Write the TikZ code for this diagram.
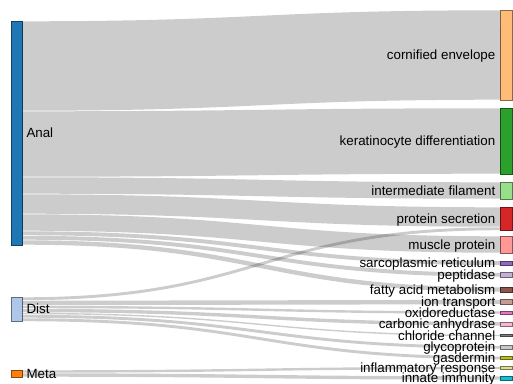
\documentclass[tikz,border=0pt]{standalone}
\usepackage{fontspec}
\setmainfont{Liberation Sans}
\usetikzlibrary{calc}

%% category20 colours of the bars
\definecolor{analColor}{HTML}{1F77B4}
\definecolor{distColor}{HTML}{AEC7E8}
\definecolor{metaColor}{HTML}{FF7F0E}
\definecolor{cornColor}{HTML}{FFBB78}
\definecolor{keraColor}{HTML}{2CA02C}
\definecolor{interColor}{HTML}{98DF8A}
\definecolor{secColor}{HTML}{D62728}
\definecolor{muscleColor}{HTML}{FF9896}
\definecolor{sarcoColor}{HTML}{9467BD}
\definecolor{peptColor}{HTML}{C5B0D5}
\definecolor{fattyColor}{HTML}{8C564B}
\definecolor{ionColor}{HTML}{C49C94}
\definecolor{oxiColor}{HTML}{E377C2}
\definecolor{carbColor}{HTML}{F7B6D2}
\definecolor{chlorColor}{HTML}{7F7F7F}
\definecolor{glycoColor}{HTML}{C7C7C7}
\definecolor{gasColor}{HTML}{BCBD22}
\definecolor{inflColor}{HTML}{DBDB8D}
\definecolor{innateColor}{HTML}{17BECF}

%% a flow: source, offset in source, target, offset in target, width
\newcommand{\flowLink}[5]{%%
  \pgfmathsetmacro{\flowWidth}{#5-0.6}
  \draw[flowStyle,line width=\flowWidth pt] let
    \p1=($(#1.north east)+(0,#2+#5/2)$),
    \p2=($(#3.north west)+(0,#4+#5/2)$)
  in (\p1) .. controls ({(\x1+\x2)/2},\y1) and ({(\x1+\x2)/2},\y2) .. (\p2);
}

\begin{document}
\begin{tikzpicture}[x=1pt,y=-1pt,%%
  barStyle/.style={fill=#1,draw=#1!55!black,line width=0.5pt,inner sep=0pt,%%
    outer sep=0pt,minimum width=11.5,anchor=north west},%%
  flowStyle/.style={draw=black,draw opacity=0.2},%%
  leftLabelStyle/.style={anchor=base west,inner sep=0pt,font=\fontsize{13.35}{15}\selectfont},%%
  rightLabelStyle/.style={anchor=base east,inner sep=0pt,font=\fontsize{13.35}{15}\selectfont}%%
]
\useasboundingbox (0,0) rectangle (513,383);
%%
\pgfmathsetmacro{\xleft}{10.8}
\pgfmathsetmacro{\xright}{500.5}
%%
%% Bars of the sources.
\node[barStyle=analColor,minimum height=224] (anal) at (\xleft,21) {};
\node[barStyle=distColor,minimum height=24.5] (dist) at (\xleft,297) {};
\node[barStyle=metaColor,minimum height=7] (meta) at (\xleft,370) {};
%%
%% Bars of the targets.
\node[barStyle=cornColor,minimum height=90] (cornified) at (\xright,10) {};
\node[barStyle=keraColor,minimum height=66] (keratin) at (\xright,108) {};
\node[barStyle=interColor,minimum height=17] (interFil) at (\xright,182) {};
\node[barStyle=secColor,minimum height=23.5] (protSec) at (\xright,207) {};
\node[barStyle=muscleColor,minimum height=17] (muscle) at (\xright,236) {};
\node[barStyle=sarcoColor,minimum height=4.5] (sarco) at (\xright,260.8) {};
\node[barStyle=peptColor,minimum height=4.5] (peptid) at (\xright,272.5) {};
\node[barStyle=fattyColor,minimum height=5] (fatty) at (\xright,287) {};
\node[barStyle=ionColor,minimum height=5] (ionTrans) at (\xright,299.5) {};
\node[barStyle=oxiColor,minimum height=3] (oxido) at (\xright,311) {};
\node[barStyle=carbColor,minimum height=4] (carbonic) at (\xright,321.8) {};
\node[barStyle=chlorColor,minimum height=2] (chloride) at (\xright,334.5) {};
\node[barStyle=glycoColor,minimum height=3.5] (glyco) at (\xright,345.5) {};
\node[barStyle=gasColor,minimum height=3.5] (gasdermin) at (\xright,356.2) {};
\node[barStyle=inflColor,minimum height=3] (inflam) at (\xright,366.5) {};
\node[barStyle=innateColor,minimum height=4] (innate) at (\xright,376) {};
%%
%% Flows out of Anal.
\flowLink{anal}{0}{cornified}{0}{90}
\flowLink{anal}{90}{keratin}{0}{66}
\flowLink{anal}{156}{interFil}{0}{17}
\flowLink{anal}{173}{protSec}{0}{20}
\flowLink{anal}{193}{muscle}{0}{17}
\flowLink{anal}{210}{sarco}{0}{4.5}
\flowLink{anal}{214.5}{peptid}{0}{4.5}
\flowLink{anal}{219}{fatty}{0}{5}
%% Flows out of Dist.
\flowLink{dist}{0}{protSec}{20}{3.5}
\flowLink{dist}{3.5}{ionTrans}{0}{5}
\flowLink{dist}{8.5}{oxido}{0}{3}
\flowLink{dist}{11.5}{carbonic}{0}{4}
\flowLink{dist}{15.5}{chloride}{0}{2}
\flowLink{dist}{17.5}{glyco}{0}{3.5}
\flowLink{dist}{21}{gasdermin}{0}{3.5}
%% Flows out of Meta.
\flowLink{meta}{0}{inflam}{0}{3}
\flowLink{meta}{3}{innate}{0}{4}
%%
%% Labels of the sources.
\node[leftLabelStyle] (analText) at ([xshift=4pt,yshift=-4.7pt]anal.east) {Anal};
\node[leftLabelStyle] (distText) at ([xshift=4pt,yshift=-4.7pt]dist.east) {Dist};
\node[leftLabelStyle] (metaText) at ([xshift=4pt,yshift=-4.7pt]meta.east) {Meta};
%%
%% Labels of the targets.
\node[rightLabelStyle] (cornifiedText) at ([xshift=-5pt,yshift=-4.7pt]cornified.west) {cornified envelope};
\node[rightLabelStyle] (keratinText) at ([xshift=-5pt,yshift=-4.7pt]keratin.west) {keratinocyte differentiation};
\node[rightLabelStyle] (interFilText) at ([xshift=-5pt,yshift=-4.7pt]interFil.west) {intermediate filament};
\node[rightLabelStyle] (protSecText) at ([xshift=-5pt,yshift=-4.7pt]protSec.west) {protein secretion};
\node[rightLabelStyle] (muscleText) at ([xshift=-5pt,yshift=-4.7pt]muscle.west) {muscle protein};
\node[rightLabelStyle] (sarcoText) at ([xshift=-5pt,yshift=-4.7pt]sarco.west) {sarcoplasmic reticulum};
\node[rightLabelStyle] (peptidText) at ([xshift=-5pt,yshift=-4.7pt]peptid.west) {peptidase};
\node[rightLabelStyle] (fattyText) at ([xshift=-5pt,yshift=-4.7pt]fatty.west) {fatty acid metabolism};
\node[rightLabelStyle] (ionTransText) at ([xshift=-5pt,yshift=-4.7pt]ionTrans.west) {ion transport};
\node[rightLabelStyle] (oxidoText) at ([xshift=-5pt,yshift=-4.7pt]oxido.west) {oxidoreductase};
\node[rightLabelStyle] (carbonicText) at ([xshift=-5pt,yshift=-4.7pt]carbonic.west) {carbonic anhydrase};
\node[rightLabelStyle] (chlorideText) at ([xshift=-5pt,yshift=-4.7pt]chloride.west) {chloride channel};
\node[rightLabelStyle] (glycoText) at ([xshift=-5pt,yshift=-4.7pt]glyco.west) {glycoprotein};
\node[rightLabelStyle] (gasderminText) at ([xshift=-5pt,yshift=-4.7pt]gasdermin.west) {gasdermin};
\node[rightLabelStyle] (inflamText) at ([xshift=-5pt,yshift=-4.7pt]inflam.west) {inflammatory response};
\node[rightLabelStyle] (innateText) at ([xshift=-5pt,yshift=-4.7pt]innate.west) {innate immunity};
\end{tikzpicture}
\end{document}
